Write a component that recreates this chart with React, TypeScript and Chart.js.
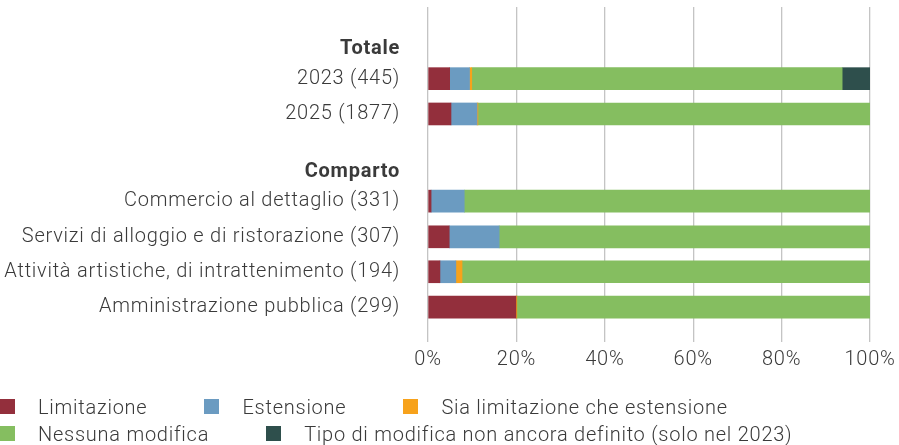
import React, { useEffect, useRef } from "react";
import { Chart, registerables } from "chart.js";

Chart.register(...registerables);

// ---- data ----
const categories = [
  "2023 (445)",
  "2025 (1877)",
  "Commercio al dettaglio (331)",
  "Servizi di alloggio e di ristorazione (307)",
  "Attività artistiche, di intrattenimento (194)",
  "Amministrazione pubblica (299)",
];
const groupHeaders = ["Totale", "Comparto"];

const seriesNames = [
  "Limitazione",
  "Estensione",
  "Sia limitazione che estensione",
  "Nessuna modifica",
  "Tipo di modifica non ancora definito (solo nel 2023)",
];
const limitazione = [4.9, 5.2, 0.7, 4.8, 2.7, 19.9];
const estensione = [4.5, 5.9, 7.5, 11.3, 3.6, null];
const entrambe = [0.5, 0.2, null, null, 1.4, 0.2];
const nessuna = [83.8, 88.7, 91.8, 83.9, 92.3, 79.9];
const nonDefinito = [6.3, null, null, null, null, null];
const xTicks = [0, 20, 40, 60, 80, 100];

// ---- layout (row positions on the vertical axis, colours) ----
const rowPos = [2.03, 3.03, 5.5, 6.51, 7.5, 8.5];
const headerPos = [1.18, 4.67];
const colors = ["#932f3c", "#6b9bc1", "#f7a21b", "#85be60", "#2e4f4c"];

const FONT = "Roboto, 'Liberation Sans', sans-serif";
const TEXT = "#3a3a3a";
const SPACING = "0.75px";

const tickDefs = [
  ...categories.map((label, i) => ({ v: rowPos[i], label, bold: false })),
  ...groupHeaders.map((label, i) => ({ v: headerPos[i], label, bold: true })),
].sort((a, b) => a.v - b.v);

const spacingPlugin = {
  id: "letterSpacing",
  beforeDraw(chart: any) {
    chart.ctx.letterSpacing = SPACING;
  },
};

export default function App() {
  const ref = useRef<HTMLCanvasElement>(null);

  useEffect(() => {
    const seriesValues = [limitazione, estensione, entrambe, nessuna, nonDefinito];
    const chart = new Chart(ref.current!, {
      type: "bar",
      plugins: [spacingPlugin],
      data: {
        datasets: seriesValues.map((vals, s) => ({
          label: seriesNames[s],
          data: vals
            .map((v, i) => (v == null ? null : { x: v, y: rowPos[i] }))
            .filter((d) => d !== null) as any,
          backgroundColor: colors[s],
          borderWidth: 0,
          barThickness: 22,
          stack: "a",
        })),
      },
      options: {
        indexAxis: "y",
        animation: false,
        responsive: false,
        layout: { padding: { top: 7, right: 29, left: 0, bottom: 0 } },
        plugins: { legend: { display: false }, tooltip: { enabled: false } },
        scales: {
          x: {
            type: "linear",
            stacked: true,
            min: 0,
            max: 100,
            afterBuildTicks: (scale: any) => {
              scale.ticks = xTicks.map((v) => ({ value: v }));
            },
            afterFit: (scale: any) => {
              scale.height = 38;
              scale.paddingLeft = 0;
              scale.paddingRight = 0;
            },
            grid: { color: "#c4c4c4", lineWidth: 1.3, drawTicks: false },
            border: { display: false },
            ticks: {
              padding: 6,
              color: TEXT,
              font: { family: FONT, size: 20, weight: "300" as any },
              callback: (v: any) => v + "%",
            },
          },
          y: {
            type: "linear",
            stacked: true,
            offset: false,
            reverse: true,
            min: 0,
            max: 9.49,
            afterBuildTicks: (scale: any) => {
              scale.ticks = tickDefs.map((t) => ({ value: t.v }));
            },
            afterFit: (scale: any) => {
              scale.width = 428;
              scale.paddingTop = 0;
              scale.paddingBottom = 0;
            },
            grid: { display: false, drawTicks: false },
            border: { display: false },
            ticks: {
              autoSkip: false,
              padding: 28,
              color: TEXT,
              callback: (_v: any, i: number) => tickDefs[i].label,
              font: (ctx: any) =>
                tickDefs[ctx.index] && tickDefs[ctx.index].bold
                  ? { family: FONT, size: 20, weight: "bold" }
                  : { family: FONT, size: 20, weight: "300" },
            } as any,
          },
        },
      },
    });
    return () => chart.destroy();
  }, []);

  const legendRows = [
    [0, 1, 2],
    [3, 4],
  ];

  return (
    <div
      style={{
        position: "fixed",
        left: 0,
        top: 0,
        width: 899,
        height: 445,
        background: "#fff",
        fontFamily: FONT,
      }}
    >
      <canvas ref={ref} width={899} height={380} style={{ display: "block" }} />
      <div style={{ position: "absolute", left: 0, top: 393 }}>
        {legendRows.map((row, r) => (
          <div
            key={r}
            style={{ display: "flex", alignItems: "center", height: 27, gap: 57 }}
          >
            {row.map((s) => (
              <div key={s} style={{ display: "flex", alignItems: "center" }}>
                <span
                  style={{
                    display: "inline-block",
                    width: 15,
                    height: 15,
                    background: colors[s],
                    marginRight: 23,
                  }}
                />
                <span
                  style={{
                    fontSize: 20,
                    fontWeight: 300,
                    color: TEXT,
                    whiteSpace: "nowrap",
                    lineHeight: "24px",
                    letterSpacing: SPACING,
                  }}
                >
                  {seriesNames[s]}
                </span>
              </div>
            ))}
          </div>
        ))}
      </div>
    </div>
  );
}
